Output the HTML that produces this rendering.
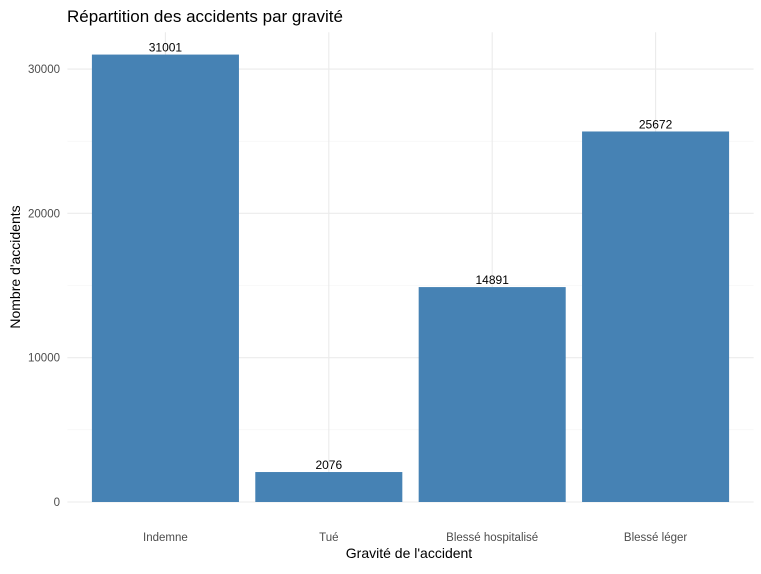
<!DOCTYPE html>
<html><head><meta charset="utf-8"><style>
body{margin:0;background:#fff;font-family:"Liberation Sans",sans-serif}
</style></head><body>
<svg id="chart" width="761" height="569" xmlns="http://www.w3.org/2000/svg">
<text x="67" y="22" font-size="17" fill="#000">Répartition des accidents par gravité</text>
<g id="grid"></g><g id="bars"></g><g id="labels"></g><g id="axes"></g>
<text x="409" y="558" font-size="14" text-anchor="middle" fill="#000">Gravité de l'accident</text>
<text transform="translate(20,267) rotate(-90)" font-size="14" text-anchor="middle" fill="#000">Nombre d'accidents</text>
</svg>
<script>
const categories = ["Indemne", "Tué", "Blessé hospitalisé", "Blessé léger"];
const values = [31001, 2076, 14891, 25672];
const yTicks = [0, 10000, 20000, 30000];
const yMinor = [5000, 15000, 25000];
const NS = "http://www.w3.org/2000/svg";
const x0 = 67.4, x1 = 753.6, yZero = 502, yTop = 32.2;
const maxV = Math.max(...values) * 1.05;
const band = (x1 - x0) / (categories.length - 1 + 1.2);
function xc(i){ return x0 + band * (0.6 + i); }
function y(v){ return yZero - (v / maxV) * (yZero - yTop); }
function mk(tag, attrs, parent){ const e = document.createElementNS(NS, tag); for (const k in attrs) e.setAttribute(k, attrs[k]); document.getElementById(parent).appendChild(e); return e; }
yMinor.forEach(v => {
  const l = mk("line", {x1:x0, x2:x1, y1:y(v), y2:y(v), stroke:"#f3f3f3", "stroke-width":0.6}, "grid");
  
  
});
yTicks.forEach(v => {
  const l = mk("line", {x1:x0, x2:x1, y1:y(v), y2:y(v), stroke:"#ebebeb", "stroke-width":1.1}, "grid");
  
  
  const t = mk("text", {x:60, y:y(v)+4, "font-size":11.5, "text-anchor":"end", fill:"#4d4d4d"}, "axes");
  t.textContent = v;
  
  
});
categories.forEach((c, i) => {
  const l = mk("line", {x1:xc(i), x2:xc(i), y1:yTop, y2:yZero, stroke:"#ebebeb", "stroke-width":1.1}, "grid");
  
  
  const w = band * 0.9;
  const b = mk("rect", {x:xc(i)-w/2, y:y(values[i]), width:w, height:yZero-y(values[i]), fill:"#4682b4"}, "bars");
  
  
  const lab = mk("text", {x:xc(i), y:y(values[i])-3, "font-size":12, "text-anchor":"middle", fill:"#000"}, "labels");
  lab.textContent = values[i];
  
  
  const t = mk("text", {x:xc(i), y:541, "font-size":11.5, "text-anchor":"middle", fill:"#4d4d4d"}, "axes");
  t.textContent = c;
  
  
});
</script>
</body></html>
